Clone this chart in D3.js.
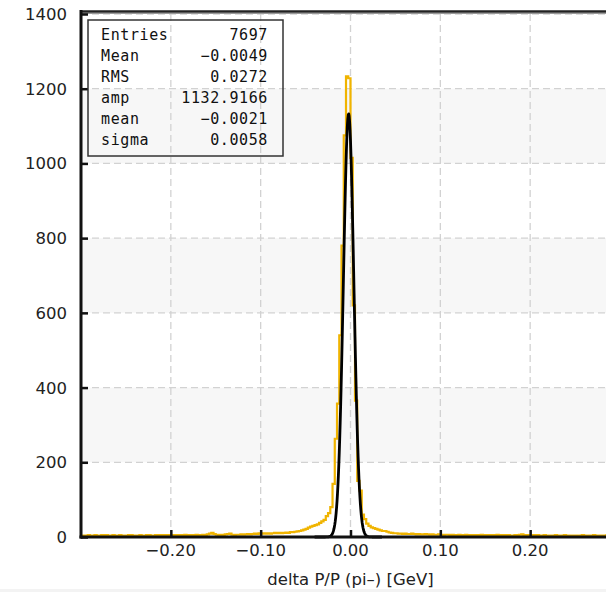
<!DOCTYPE html>
<html>
<head>
<meta charset="utf-8">
<script src="https://cdn.jsdelivr.net/npm/d3@7"></script>
<style>
  html, body { margin: 0; padding: 0; background: #ffffff; }
  svg { display: block; }
</style>
</head>
<body>
<svg id="chart" width="606" height="592"></svg>
<script>
// Histogram of delta P/P for pi-: 240 bins of width 0.0025 over [-0.3, 0.3]
const binLow = -0.3;
const binWidth = 0.0025;

// -0.300 .. -0.060
const countsLeftTail = [
  3, 4, 3, 5, 4, 4, 5, 3, 4, 5,
  4, 5, 4, 3, 5, 4, 4, 5, 4, 3,
  4, 5, 5, 4, 3, 4, 5, 4, 4, 5,
  5, 4, 4, 5, 5, 4, 5, 4, 5, 5,
  5, 4, 5, 5, 4, 5, 6, 5, 4, 5,
  5, 6, 5, 5, 6, 5, 7, 9, 11, 8,
  6, 5, 6, 5, 7, 8, 9, 6, 5, 6,
  6, 7, 6, 7, 8, 7, 8, 9, 8, 10,
  9, 10, 9, 10, 9, 10, 11, 10, 11, 10,
  11, 12, 11, 13, 13, 14
];
// -0.060 .. 0.050
const countsCore = [
  15, 16, 18, 20, 22, 25, 28, 30, 32, 34,
  38, 42, 46, 56, 64, 80, 142, 263, 357, 540,
  780, 1075, 1233, 1228,
  1015, 620, 365, 150, 124, 60, 48, 36, 30, 26,
  24, 22, 20, 18, 16, 16, 14, 12, 11, 10
];
// 0.050 .. 0.300
const countsRightTail = [
  10, 9, 9, 8, 9, 8, 8, 9, 8, 7,
  8, 7, 7, 8, 7, 6, 7, 6, 6, 7,
  6, 5, 6, 6, 5, 6, 5, 5, 6, 5,
  5, 6, 5, 4, 5, 5, 4, 5, 6, 5,
  4, 5, 5, 4, 5, 6, 5, 4, 5, 4,
  5, 4, 4, 5, 4, 6, 7, 5, 4, 5,
  4, 5, 4, 5, 4, 4, 5, 4, 3, 4,
  4, 5, 4, 3, 4, 5, 4, 4, 3, 4,
  4, 3, 4, 5, 4, 3, 4, 4, 5, 4,
  3, 4, 4, 3, 5, 4, 3, 4, 3, 4
];
const counts = countsLeftTail.concat(countsCore, countsRightTail);

// Gaussian fit parameters
const fitAmp = 1132.9166;
const fitMean = -0.0021;
const fitSigma = 0.0058;

// Statistics box rows
const statNames = ["Entries", "Mean", "RMS", "amp", "mean", "sigma"];
const statValues = ["7697", "\u22120.0049", "0.0272", "1132.9166", "\u22120.0021", "0.0058"];

// Axis ticks
const xTicks = [-0.2, -0.1, 0.0, 0.1, 0.2];
const xTickLabels = ["\u22120.20", "\u22120.10", "0.00", "0.10", "0.20"];
const yTicks = [0, 200, 400, 600, 800, 1000, 1200, 1400];
const xTitle = "delta P/P (pi\u2013) [GeV]";

const svg = d3.select("#chart");
const x = d3.scaleLinear().domain([-0.3, 0.3]).range([81, 620]);
const y = d3.scaleLinear().domain([0, 1400]).range([537, 14]);

const plotLeft = x(-0.3), plotRight = x(0.3);

// alternating background bands
const bands = [[200, 400], [600, 800], [1000, 1200]];
svg.append("g").selectAll("rect").data(bands).join("rect")
  .attr("x", plotLeft).attr("width", plotRight - plotLeft)
  .attr("y", d => y(d[1])).attr("height", d => y(d[0]) - y(d[1]))
  .attr("fill", "#f7f7f7");

// dashed grid
const grid = svg.append("g").attr("stroke", "#d2d2d2").attr("stroke-width", 1.3)
  .attr("stroke-dasharray", "7,4");
grid.selectAll("line.h").data(yTicks.filter(v => v > 0)).join("line")
  .attr("class", "h")
  .attr("x1", plotLeft).attr("x2", plotRight)
  .attr("y1", d => y(d)).attr("y2", d => y(d));
grid.selectAll("line.v").data(xTicks).join("line")
  .attr("class", "v")
  .attr("x1", d => x(d)).attr("x2", d => x(d))
  .attr("y1", y(1400)).attr("y2", y(0));

// histogram as a step outline
const histPts = [];
counts.forEach((c, i) => {
  const lo = binLow + i * binWidth;
  histPts.push([lo, c], [lo + binWidth, c]);
});
const line = d3.line().x(d => x(d[0])).y(d => y(d[1]));
svg.append("path")
  .attr("d", line(histPts))
  .attr("fill", "none")
  .attr("stroke", "#f0b400")
  .attr("stroke-width", 2.2)
  .attr("stroke-linejoin", "miter");

// Gaussian fit curve
const fitPts = d3.range(-0.040, 0.0351, 0.0005).map(v => [v,
  fitAmp * Math.exp(-0.5 * Math.pow((v - fitMean) / fitSigma, 2))]);
svg.append("path")
  .attr("d", d3.line().x(d => x(d[0])).y(d => y(d[1])).curve(d3.curveLinear)(fitPts))
  .attr("fill", "none")
  .attr("stroke", "#000")
  .attr("stroke-width", 2.8)
  .attr("stroke-linejoin", "round");

// frame: top line, left and bottom axes
svg.append("line").attr("x1", plotLeft - 1).attr("x2", 606)
  .attr("y1", 11.5).attr("y2", 11.5).attr("stroke", "#222").attr("stroke-width", 2.5);
svg.append("line").attr("x1", plotLeft).attr("x2", 606)
  .attr("y1", 13.5).attr("y2", 13.5).attr("stroke", "#999").attr("stroke-width", 1.2);
svg.append("line").attr("x1", plotLeft).attr("x2", plotLeft)
  .attr("y1", 10).attr("y2", y(0) + 1.5).attr("stroke", "#111").attr("stroke-width", 3);
svg.append("line").attr("x1", plotLeft - 1.5).attr("x2", 606)
  .attr("y1", y(0)).attr("y2", y(0)).attr("stroke", "#111").attr("stroke-width", 3);

// y axis ticks (inward) and labels
const yAxis = svg.append("g").attr("transform", `translate(${plotLeft},0)`)
  .call(d3.axisRight(y).tickValues(yTicks).tickSize(7).tickFormat(""));
yAxis.select(".domain").remove();
yAxis.selectAll(".tick line").attr("stroke", "#111").attr("stroke-width", 2.5);
svg.append("g").selectAll("text").data(yTicks).join("text")
  .attr("x", 67).attr("y", d => y(d)).attr("dy", "0.36em")
  .attr("text-anchor", "end")
  .attr("font-family", "DejaVu Sans, sans-serif").attr("font-size", 16.5)
  .attr("fill", "#222")
  .text(d => d);

// x axis ticks (inward) and labels
const xAxis = svg.append("g").attr("transform", `translate(0,${y(0)})`)
  .call(d3.axisTop(x).tickValues(xTicks).tickSize(7).tickFormat(""));
xAxis.select(".domain").remove();
xAxis.selectAll(".tick line").attr("stroke", "#111").attr("stroke-width", 2.5);
svg.append("g").selectAll("text").data(xTicks).join("text")
  .attr("x", d => x(d)).attr("y", 556)
  .attr("text-anchor", "middle")
  .attr("font-family", "DejaVu Sans, sans-serif").attr("font-size", 16.5)
  .attr("fill", "#222")
  .text((d, i) => xTickLabels[i]);

svg.append("text")
  .attr("x", x(0)).attr("y", 585)
  .attr("text-anchor", "middle")
  .attr("font-family", "DejaVu Sans, sans-serif").attr("font-size", 16.5)
  .attr("fill", "#222")
  .text(xTitle);

// page strip below
svg.append("rect").attr("x", 0).attr("y", 589).attr("width", 606).attr("height", 3)
  .attr("fill", "#f3f3f3");

// statistics box
const box = svg.append("g");
box.append("rect").attr("x", 88).attr("y", 20).attr("width", 195).attr("height", 136)
  .attr("fill", "none").attr("stroke", "#333").attr("stroke-width", 1.5);
const rows = box.selectAll("g.row").data(statNames).join("g").attr("class", "row");
rows.append("text")
  .attr("x", 101).attr("y", (d, i) => 40 + i * 21)
  .attr("font-family", "DejaVu Sans Mono, monospace").attr("font-size", 15)
  .attr("letter-spacing", 0.6)
  .attr("fill", "#111")
  .text(d => d);
rows.append("text")
  .attr("x", 268).attr("y", (d, i) => 40 + i * 21)
  .attr("text-anchor", "end")
  .attr("font-family", "DejaVu Sans Mono, monospace").attr("font-size", 15)
  .attr("letter-spacing", 0.6)
  .attr("fill", "#111")
  .text((d, i) => statValues[i]);
</script>
</body>
</html>
